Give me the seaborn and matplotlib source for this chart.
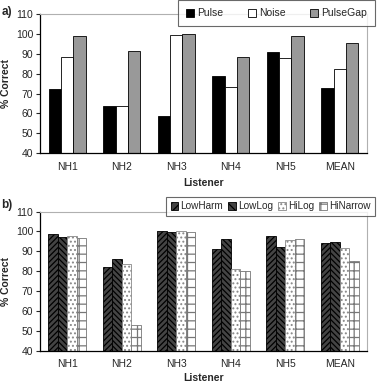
import matplotlib
matplotlib.use('Agg')
import matplotlib.pyplot as plt
import seaborn as sns
import pandas as pd

listeners = ['NH1', 'NH2', 'NH3', 'NH4', 'NH5', 'MEAN']

# panel a
conds_a = ['Pulse', 'Noise', 'PulseGap']
pulse = [72.5, 63.5, 58.5, 79, 91, 73]
noise = [88.5, 63.5, 99.5, 73.5, 88, 82.5]
pulsegap = [99, 91.5, 100, 88.5, 99, 95.5]

# panel b
conds_b = ['LowHarm', 'LowLog', 'HiLog', 'HiNarrow']
lowharm = [98.5, 82, 100, 91, 97.5, 94]
lowlog = [97, 86, 99.5, 96, 92, 94.5]
hilog = [97.5, 83.5, 100, 81, 95.5, 91.5]
hinarrow = [96.5, 53, 99.5, 80, 96, 85]

sns.set_style('white')
plt.rcParams['font.family'] = ['Liberation Sans', 'DejaVu Sans']
plt.rcParams['hatch.linewidth'] = 0.9


def long_df(conds, series):
    rows = []
    for c, vals in zip(conds, series):
        for l, v in zip(listeners, vals):
            rows.append({'Listener': l, 'pct': v, 'cond': c})
    return pd.DataFrame(rows)


def style_axes(ax, xlab_y):
    ax.set_ylim(40, 110)
    ax.set_xlim(-0.5, 5.5)
    ax.set_yticks(range(40, 111, 10))
    ax.set_xticks([i + 0.5 for i in range(-1, 6)], minor=True)
    ax.tick_params(axis='x', which='major', length=0, labelsize=7.5, pad=6)
    ax.tick_params(axis='x', which='minor', length=3, width=0.8, direction='out', color='black')
    ax.tick_params(axis='y', length=3, width=0.8, direction='out', labelsize=7.5, pad=2, left=True)
    for s in ['left', 'bottom']:
        ax.spines[s].set_color('black')
        ax.spines[s].set_linewidth(0.9)
    for s in ['top', 'right']:
        ax.spines[s].set_color('#b0b0b0')
        ax.spines[s].set_linewidth(0.8)
    ax.set_xlabel('Listener', fontsize=7.5, fontweight='bold')
    ax.set_ylabel('% Correct', fontsize=7.5, fontweight='bold')
    ax.xaxis.set_label_coords(0.5, xlab_y)
    ax.yaxis.set_label_coords(-0.105, 0.5)
    ax.xaxis.label.set_va('center')
    ax.yaxis.label.set_va('center')


fig = plt.figure(figsize=(3.78, 3.84), dpi=100)
ax1 = fig.add_axes([0.106, 0.601, 0.865, 0.3625])
ax2 = fig.add_axes([0.106, 0.087, 0.865, 0.362])

# ---- a)
df_a = long_df(conds_a, [pulse, noise, pulsegap])
sns.barplot(data=df_a, x='Listener', y='pct', hue='cond', ax=ax1,
            palette=['black', 'white', '#999999'], edgecolor='black',
            linewidth=0.6, width=0.68, saturation=1)
style_axes(ax1, -0.215)
h, l = ax1.get_legend_handles_labels()
for hh in h:
    hh.set_edgecolor('black')
    hh.set_linewidth(0.6)
leg = ax1.legend(h, l, ncol=3, loc='lower left', mode='expand',
                 bbox_to_anchor=(0.471, 0.932, 0.521, 0.068),
                 bbox_transform=fig.transFigure, frameon=True, fancybox=False,
                 fontsize=7.5, handlelength=0.8, handleheight=0.8,
                 handletextpad=0.3, borderpad=0.75, borderaxespad=0)
leg.get_frame().set_edgecolor('#444444')
leg.get_frame().set_linewidth(0.8)

# ---- b)
df_b = long_df(conds_b, [lowharm, lowlog, hilog, hinarrow])
sns.barplot(data=df_b, x='Listener', y='pct', hue='cond', ax=ax2,
            palette=['#444444', '#444444', 'white', 'white'], edgecolor='black',
            linewidth=0.6, width=0.7, saturation=1)
style_axes(ax2, -0.195)
hatches = ['//////', '\\\\\\\\\\\\', '....', '++']
edges = ['black', 'black', '#888888', '#777777']
for cont, ht, ec in zip(ax2.containers, hatches, edges):
    for bar in cont:
        bar.set_hatch(ht)
        bar.set_edgecolor(ec)
h, l = ax2.get_legend_handles_labels()
for hh, ht, ec in zip(h, hatches, edges):
    hh.set_hatch(ht[:4])
    hh.set_edgecolor(ec)
    hh.set_linewidth(0.6)
leg2 = ax2.legend(h, l, ncol=4, loc='upper right',
                  bbox_to_anchor=(0.992, 0.487),
                  bbox_transform=fig.transFigure, frameon=True, fancybox=False,
                  fontsize=7.2, handlelength=0.75, handleheight=0.75,
                  handletextpad=0.2, columnspacing=0.55, borderpad=0.45,
                  borderaxespad=0)
leg2.get_frame().set_edgecolor('#444444')
leg2.get_frame().set_linewidth(0.8)

fig.text(0.003, 0.985, 'a)', fontsize=8.5, fontweight='bold', va='top')
fig.text(0.003, 0.483, 'b)', fontsize=8.5, fontweight='bold', va='top')

fig.savefig('out.png', dpi=100)
